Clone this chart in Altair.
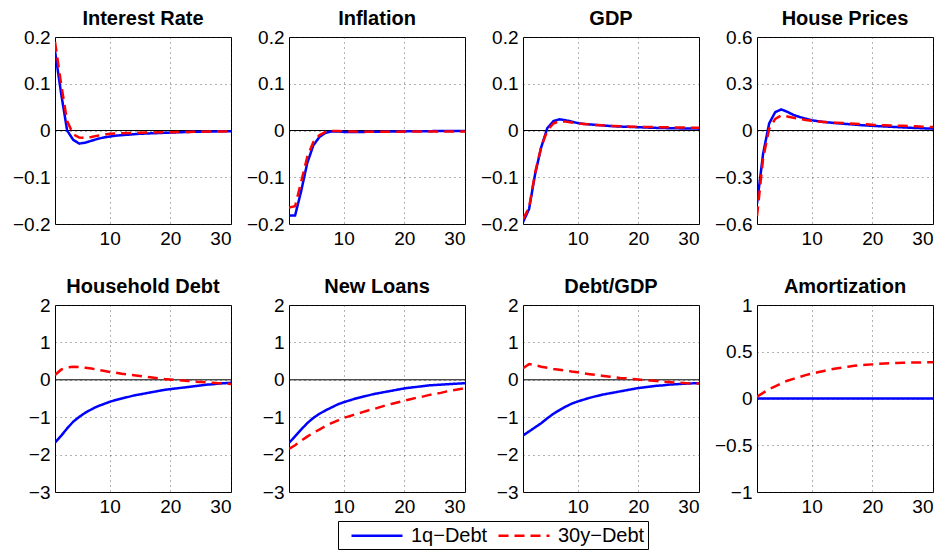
import altair as alt
import pandas as pd

steps = list(range(1, 31))
series_names = ["1q\u2212Debt", "30y\u2212Debt"]
colors = ["#0000ff", "#ff0000"]
dashes = [[1, 0], [10, 6]]

ir_1q = [0.170, 0.080, 0.000, -0.020, -0.028, -0.026, -0.022, -0.018, -0.015, -0.013, -0.011, -0.010, -0.009, -0.008, -0.007, -0.0065, -0.006, -0.0055, -0.005, -0.0045, -0.004, -0.0035, -0.003, -0.0028, -0.0025, -0.0022, -0.002, -0.0018, -0.0016, -0.0015]
ir_30y = [0.190, 0.100, 0.020, -0.008, -0.015, -0.016, -0.014, -0.011, -0.009, -0.007, -0.0065, -0.006, -0.0055, -0.005, -0.0048, -0.0045, -0.0042, -0.004, -0.0038, -0.0036, -0.0034, -0.0032, -0.003, -0.0028, -0.0026, -0.0024, -0.0022, -0.002, -0.0019, -0.0018]
inf_1q = [-0.182, -0.182, -0.130, -0.070, -0.032, -0.014, -0.005, -0.002, -0.002, -0.003, -0.003, -0.003, -0.003, -0.0029, -0.0028, -0.0026, -0.0024, -0.0022, -0.002, -0.0019, -0.0018, -0.0016, -0.0015, -0.0014, -0.0013, -0.0012, -0.0011, -0.001, -0.001, -0.0009]
inf_30y = [-0.165, -0.162, -0.110, -0.057, -0.025, -0.010, -0.003, -0.001, -0.001, -0.002, -0.002, -0.0024, -0.0025, -0.0026, -0.0026, -0.0026, -0.0025, -0.0025, -0.0025, -0.0024, -0.0024, -0.0024, -0.0024, -0.0023, -0.0023, -0.0023, -0.0023, -0.0022, -0.0022, -0.0022]
gdp_1q = [-0.196, -0.168, -0.093, -0.036, 0.005, 0.020, 0.024, 0.022, 0.019, 0.016, 0.014, 0.013, 0.012, 0.011, 0.010, 0.009, 0.0085, 0.008, 0.0075, 0.007, 0.0065, 0.006, 0.0056, 0.0052, 0.005, 0.0047, 0.0045, 0.0043, 0.0041, 0.004]
gdp_30y = [-0.190, -0.165, -0.090, -0.035, 0.000, 0.015, 0.020, 0.019, 0.017, 0.015, 0.014, 0.013, 0.012, 0.011, 0.010, 0.0095, 0.009, 0.0085, 0.0082, 0.008, 0.0077, 0.0074, 0.0071, 0.0069, 0.0067, 0.0065, 0.0063, 0.0061, 0.006, 0.0058]
hp_1q = [-0.47, -0.15, 0.045, 0.118, 0.135, 0.120, 0.100, 0.087, 0.076, 0.066, 0.060, 0.055, 0.051, 0.047, 0.044, 0.041, 0.038, 0.035, 0.032, 0.030, 0.028, 0.026, 0.024, 0.022, 0.020, 0.018, 0.016, 0.015, 0.013, 0.012]
hp_30y = [-0.55, -0.18, 0.010, 0.075, 0.096, 0.090, 0.082, 0.075, 0.068, 0.062, 0.058, 0.055, 0.052, 0.050, 0.048, 0.046, 0.044, 0.042, 0.040, 0.037, 0.035, 0.034, 0.032, 0.031, 0.030, 0.028, 0.027, 0.025, 0.024, 0.022]
hd_1q = [-1.68, -1.50, -1.30, -1.12, -0.99, -0.88, -0.79, -0.71, -0.65, -0.59, -0.54, -0.50, -0.46, -0.42, -0.39, -0.36, -0.33, -0.30, -0.27, -0.25, -0.23, -0.21, -0.19, -0.17, -0.15, -0.13, -0.12, -0.10, -0.09, -0.08]
hd_30y = [0.13, 0.27, 0.33, 0.35, 0.34, 0.32, 0.30, 0.27, 0.24, 0.21, 0.19, 0.16, 0.14, 0.12, 0.10, 0.08, 0.06, 0.04, 0.02, 0.01, -0.01, -0.02, -0.03, -0.05, -0.06, -0.07, -0.08, -0.09, -0.10, -0.11]
nl_1q = [-1.69, -1.51, -1.33, -1.16, -1.02, -0.91, -0.82, -0.74, -0.66, -0.60, -0.55, -0.50, -0.46, -0.42, -0.38, -0.35, -0.32, -0.29, -0.26, -0.23, -0.21, -0.19, -0.17, -0.15, -0.14, -0.13, -0.12, -0.11, -0.10, -0.09]
nl_30y = [-1.85, -1.75, -1.63, -1.52, -1.42, -1.33, -1.24, -1.16, -1.09, -1.02, -0.97, -0.92, -0.87, -0.82, -0.78, -0.73, -0.68, -0.64, -0.60, -0.56, -0.52, -0.48, -0.45, -0.41, -0.38, -0.35, -0.31, -0.28, -0.25, -0.22]
dg_1q = [-1.49, -1.38, -1.27, -1.16, -1.03, -0.91, -0.81, -0.72, -0.64, -0.58, -0.53, -0.48, -0.44, -0.40, -0.37, -0.34, -0.31, -0.28, -0.25, -0.22, -0.20, -0.18, -0.16, -0.15, -0.13, -0.12, -0.11, -0.10, -0.095, -0.09]
dg_30y = [0.31, 0.42, 0.39, 0.35, 0.32, 0.29, 0.27, 0.25, 0.22, 0.20, 0.17, 0.15, 0.13, 0.11, 0.09, 0.07, 0.05, 0.04, 0.02, 0.01, -0.01, -0.02, -0.03, -0.05, -0.06, -0.07, -0.08, -0.09, -0.10, -0.10]
am_1q = [0.0, 0.0, 0.0, 0.0, 0.0, 0.0, 0.0, 0.0, 0.0, 0.0, 0.0, 0.0, 0.0, 0.0, 0.0, 0.0, 0.0, 0.0, 0.0, 0.0, 0.0, 0.0, 0.0, 0.0, 0.0, 0.0, 0.0, 0.0, 0.0, 0.0]
am_30y = [0.02, 0.06, 0.10, 0.13, 0.16, 0.19, 0.21, 0.23, 0.25, 0.265, 0.28, 0.295, 0.31, 0.32, 0.33, 0.34, 0.35, 0.355, 0.36, 0.365, 0.37, 0.375, 0.378, 0.38, 0.382, 0.384, 0.385, 0.386, 0.387, 0.388]

titles = ["Interest Rate", "Inflation", "GDP", "House Prices",
          "Household Debt", "New Loans", "Debt/GDP", "Amortization"]
y_domains = [[-0.2, 0.2], [-0.2, 0.2], [-0.2, 0.2], [-0.6, 0.6],
             [-3, 2], [-3, 2], [-3, 2], [-1, 1]]
y_ticks = [[-0.2, -0.1, 0, 0.1, 0.2], [-0.2, -0.1, 0, 0.1, 0.2],
           [-0.2, -0.1, 0, 0.1, 0.2], [-0.6, -0.3, 0, 0.3, 0.6],
           [-3, -2, -1, 0, 1, 2], [-3, -2, -1, 0, 1, 2],
           [-3, -2, -1, 0, 1, 2], [-1, -0.5, 0, 0.5, 1]]
x_ticks = [10, 20, 30]
series = [(ir_1q, ir_30y), (inf_1q, inf_30y), (gdp_1q, gdp_30y), (hp_1q, hp_30y),
          (hd_1q, hd_30y), (nl_1q, nl_30y), (dg_1q, dg_30y), (am_1q, am_30y)]

W, H = 176, 187


def panel(i):
    a, b = series[i]
    df = pd.DataFrame({
        "t": steps + steps,
        "v": a + b,
        "s": [series_names[0]] * len(a) + [series_names[1]] * len(b),
    })
    yscale = alt.Scale(domain=y_domains[i], nice=False, zero=False)
    yaxis = alt.Axis(values=y_ticks[i], title=None, format="~g")
    zero = alt.Chart(pd.DataFrame({"v": [0]})).mark_rule(color="black", strokeWidth=1).encode(
        y=alt.Y("v:Q", scale=yscale, axis=yaxis)
    )
    lines = alt.Chart(df).mark_line(strokeWidth=2.5, clip=True).encode(
        x=alt.X("t:Q", scale=alt.Scale(domain=[1, 30], nice=False, zero=False),
                axis=alt.Axis(values=x_ticks, title=None, format="d")),
        y=alt.Y("v:Q", scale=yscale, axis=yaxis),
        color=alt.Color("s:N", sort=series_names,
                        scale=alt.Scale(domain=series_names, range=colors),
                        legend=alt.Legend(title=None)),
        strokeDash=alt.StrokeDash("s:N", sort=series_names,
                                  scale=alt.Scale(domain=series_names, range=dashes),
                                  legend=alt.Legend(title=None)),
    )
    return alt.layer(zero, lines).properties(width=W, height=H, title=titles[i])


FONT = "Liberation Sans"
chart = alt.concat(*[panel(i) for i in range(8)], columns=4,
                   spacing={"column": 58, "row": 81}, bounds="flush").properties(
    padding={"left": 3, "top": 0, "right": 5, "bottom": 0}
).configure_view(
    stroke="black", strokeWidth=1
).configure_axis(
    domain=False, ticks=False, labelFont=FONT, labelFontSize=19, labelColor="black",
    labelPadding=5, grid=True, gridColor="#222222", gridDash=[1, 4], gridWidth=1,
    gridOpacity=0.7
).configure_title(
    font=FONT, fontSize=20, fontWeight="bold", color="black", offset=-1
).configure_legend(
    orient="none", legendX=283, legendY=484, direction="horizontal",
    strokeColor="black", fillColor="white", padding=3, cornerRadius=0,
    symbolType="M-0.1,0H5", symbolSize=400, symbolStrokeWidth=2.5,
    labelFont=FONT, labelFontSize=20, labelColor="black", labelOffset=47,
    columnPadding=-4
)

chart.save("out.html", embed_options={"renderer": "svg", "actions": False})
